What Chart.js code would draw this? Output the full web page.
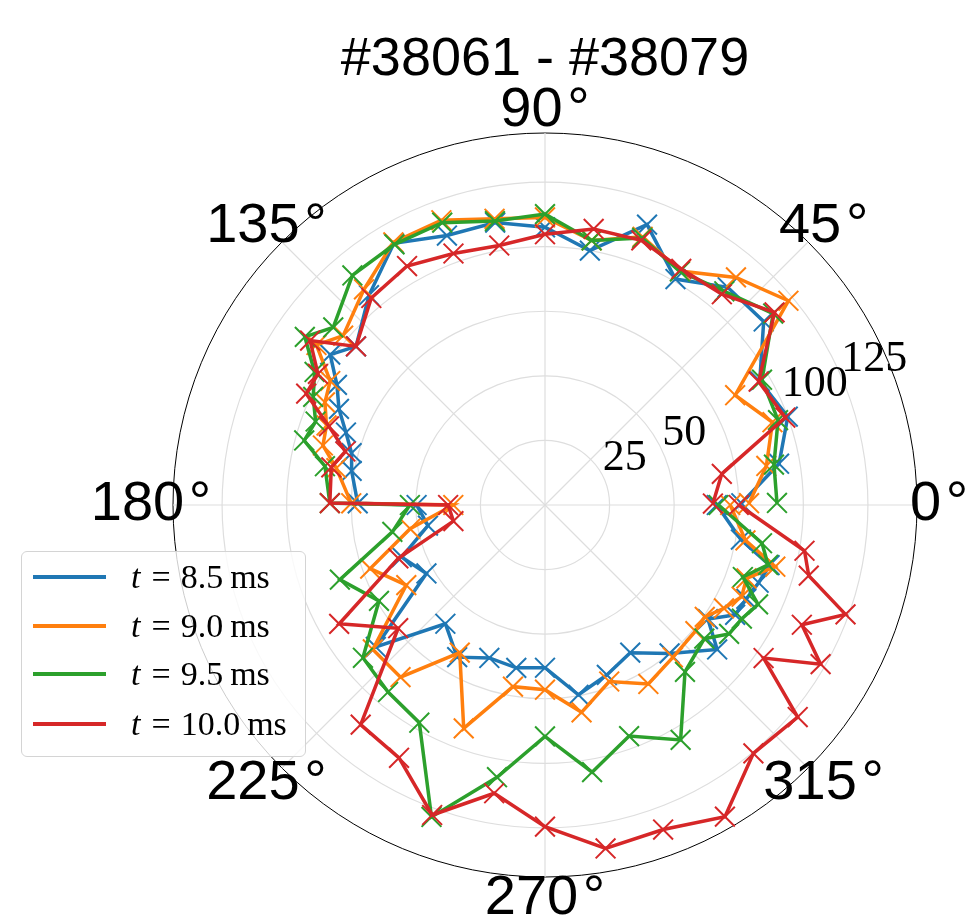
<!DOCTYPE html>
<html>
<head>
<meta charset="utf-8">
<script src="https://cdn.jsdelivr.net/npm/chart.js@4.4.1/dist/chart.umd.min.js"></script>
<style>
  body { margin: 0; background: #fff; }
  #wrap { position: relative; width: 965px; height: 917px; }
  #legend {
    position: absolute; left: 21px; top: 551px; width: 285px; height: 206px;
    box-sizing: border-box; border: 1px solid #d4d4d4; border-radius: 6px;
    background: rgba(255, 255, 255, 0.8);
    font-family: "Liberation Serif", serif; font-size: 34px; color: #000;
  }
  .swatch { position: absolute; left: 11px; width: 73px; height: 4px; }
  .txt { position: absolute; left: 109px; height: 40px; line-height: 40px; white-space: nowrap; }
  .eq { margin: 0 10px 0 11px; }
  .ms { margin-left: 7px; }
</style>
</head>
<body>
<div id="wrap">
  <canvas id="chart" width="965" height="917"></canvas>
  <div id="legend"></div>
</div>
<script>
// probe angles, degrees: upper half runs 0 -> 180, lower half 180 -> 360
const anglesUpper = [0, 10, 20, 30, 40, 50, 60, 70, 80, 90, 100, 110, 120, 130, 140, 145, 150, 155, 160, 165, 170, 180];
const anglesLower = [180, 190, 200, 210, 220, 230, 240, 250, 260, 270, 280, 290, 300, 310, 320, 325, 330, 335, 340, 345, 350, 360];

// t = 8.5 ms
const t85Upper = [76, 92, 100, 96, 110.5, 110, 101, 115.5, 100, 107.5, 111, 111, 117, 106, 95.5, 101.5, 93, 88, 82, 77.5, 76, 72.5];
const t85Lower = [49.7, 46, 59, 53, 85.5, 60, 68, 63, 64, 63, 74.6, 70, 66, 75, 87, 77, 85, 86, 88, 90, 77, 66.5];
// t = 9.0 ms
const t90Upper = [79, 87, 93.7, 85, 123, 115, 104.6, 110.5, 104, 111.3, 112.5, 117.3, 117.4, 109, 102, 108, 96, 94, 90, 89, 82, 75];
const t90Lower = [35.5, 53, 72, 62, 87, 87, 66, 92, 71.4, 71.5, 81.5, 72.7, 80, 77, 76, 75.5, 80, 84, 83, 92.3, 78.8, 71.7];
// t = 9.5 ms
const t95Upper = [89.8, 90, 96, 97, 115.3, 108, 104.4, 110, 104, 112.6, 111.6, 116.3, 116.5, 116, 107, 113.5, 103, 99, 94.5, 96.5, 86.5, 83.3];
const t95Lower = [52.3, 60, 84.5, 74.2, 92, 94.5, 97.3, 128.5, 107, 89.6, 105, 95.2, 105, 84.3, 80.5, 87, 88, 91, 81.5, 89.4, 85.3, 67.2];
// t = 10.0 ms
const t100Upper = [65, 69.5, 99, 95.5, 116, 106.5, 105.5, 109, 108.5, 104.8, 102, 103.6, 106.8, 104.6, 95.5, 111, 101.5, 102, 89, 80, 84, 83.3];
const t100Lower = [37.5, 36, 60.4, 92, 74.2, 111, 113, 127.7, 113.3, 124.5, 135, 133.7, 139.3, 125.5, 127.7, 103.3, 123.2, 109.7, 123.8, 105.7, 102, 75];

const seriesNames = ['8.5', '9.0', '9.5', '10.0'];
const seriesColors = ['#1f77b4', '#ff7f0e', '#2ca02c', '#d62728'];
const seriesUpper = [t85Upper, t90Upper, t95Upper, t100Upper];
const seriesLower = [t85Lower, t90Lower, t95Lower, t100Lower];

const rGrid = [0, 25, 50, 75, 100, 125];
const rTickLabels = [25, 50, 100, 125];
const rLabelAngle = 22.5;
const thetaTickLabels = [0, 45, 90, 135, 180, 225, 270, 315];
const rMax = 144;

// radar slots every half degree, clockwise from 0 deg (so angles run counter-clockwise on screen)
const STEP = 0.5;
const SLOTS = 360 / STEP;
const slotLabels = Array.from({ length: SLOTS }, (_, i) => (360 - i * STEP) % 360);
const angleToSlot = (a) => Math.round(((360 - a) % 360) / STEP) % SLOTS;

function toSlots(upper, lower) {
  const out = new Array(SLOTS).fill(null);
  anglesLower.forEach((a, k) => { out[Math.round((360 - a) / STEP)] = lower[k]; });
  // the upper half meets the lower one at 0 and 180: nudge its ends by one slot
  anglesUpper.forEach((a, k) => {
    const j = Math.min(SLOTS - 1, Math.max(SLOTS / 2 + 1, Math.round((360 - a) / STEP)));
    out[j] = upper[k];
  });
  return out;
}

// the measured trace is open, so stop radar from closing it
const openPath = {
  id: 'openPath',
  afterDatasetsUpdate(chart) {
    chart.data.datasets.forEach((ds, i) => {
      const line = chart.getDatasetMeta(i).dataset;
      if (line) {
        line._loop = false;
        delete line._segments;
        delete line._path;
      }
    });
  }
};

const axisText = {
  id: 'axisText',
  afterDraw(chart) {
    const s = chart.scales.r;
    const ctx = chart.ctx;
    ctx.save();
    ctx.fillStyle = '#000';
    ctx.font = '56px "Liberation Sans"';
    ctx.textAlign = 'center';
    ctx.textBaseline = 'middle';
    thetaTickLabels.forEach((a) => {
      const p = s.getPointPosition(angleToSlot(a), s.drawingArea + 22);
      ctx.fillText(a + '\u200a\u00b0', p.x, p.y);
    });
    ctx.font = '44px "Liberation Serif"';
    ctx.textAlign = 'left';
    ctx.textBaseline = 'bottom';
    rTickLabels.forEach((v) => {
      const p = s.getPointPosition(angleToSlot(rLabelAngle), s.getDistanceFromCenterForValue(v));
      ctx.fillText(String(v), p.x - 2, p.y);
    });
    ctx.restore();
  }
};

new Chart(document.getElementById('chart'), {
  type: 'radar',
  data: {
    labels: slotLabels,
    datasets: seriesNames.map((name, i) => ({
      label: 't = ' + name + ' ms',
      data: toSlots(seriesUpper[i], seriesLower[i]),
      borderColor: seriesColors[i],
      backgroundColor: seriesColors[i],
      borderWidth: 3.5,
      fill: false,
      spanGaps: true,
      pointStyle: 'crossRot',
      pointRadius: 14,
      pointBorderWidth: 2,
      pointBorderColor: seriesColors[i],
      order: seriesNames.length - i
    }))
  },
  options: {
    responsive: false,
    animation: false,
    events: [],
    devicePixelRatio: 1,
    layout: { padding: { left: 173, right: 48, top: 0, bottom: 40 } },
    plugins: {
      legend: { display: false },
      tooltip: { enabled: false },
      title: {
        display: true,
        text: '#38061 - #38079',
        fullSize: false,
        color: '#000',
        font: { family: 'Liberation Sans', size: 54, weight: 'normal' },
        padding: { top: 28, bottom: 40.2 }
      }
    },
    scales: {
      r: {
        min: 0,
        max: rMax,
        startAngle: 90,
        afterBuildTicks: (scale) => {
          scale.ticks = rGrid.concat([rMax]).map((v) => ({ value: v }));
        },
        ticks: { display: false },
        pointLabels: { display: false },
        grid: {
          circular: true,
          color: (ctx) => (ctx.tick && ctx.tick.value === rMax ? '#000' : '#dedede'),
          lineWidth: (ctx) => (ctx.tick && ctx.tick.value === rMax ? 1 : 1.2)
        },
        angleLines: {
          color: '#dedede',
          lineWidth: (ctx) => (ctx.index % (45 / STEP) === 0 ? 1.2 : 0)
        }
      }
    }
  },
  plugins: [openPath, axisText]
});

// legend with an italic t, built from the series lists
const legend = document.getElementById('legend');
const rowCenters = [25, 74, 122, 172];
seriesNames.forEach((name, i) => {
  const sw = document.createElement('div');
  sw.className = 'swatch';
  sw.style.top = (rowCenters[i] - 2) + 'px';
  sw.style.background = seriesColors[i];
  legend.appendChild(sw);
  const tx = document.createElement('div');
  tx.className = 'txt';
  tx.style.top = (rowCenters[i] - 20) + 'px';
  tx.innerHTML = '<i>t</i><span class="eq">=</span>' + name + '<span class="ms">ms</span>';
  legend.appendChild(tx);
});
</script>
</body>
</html>
